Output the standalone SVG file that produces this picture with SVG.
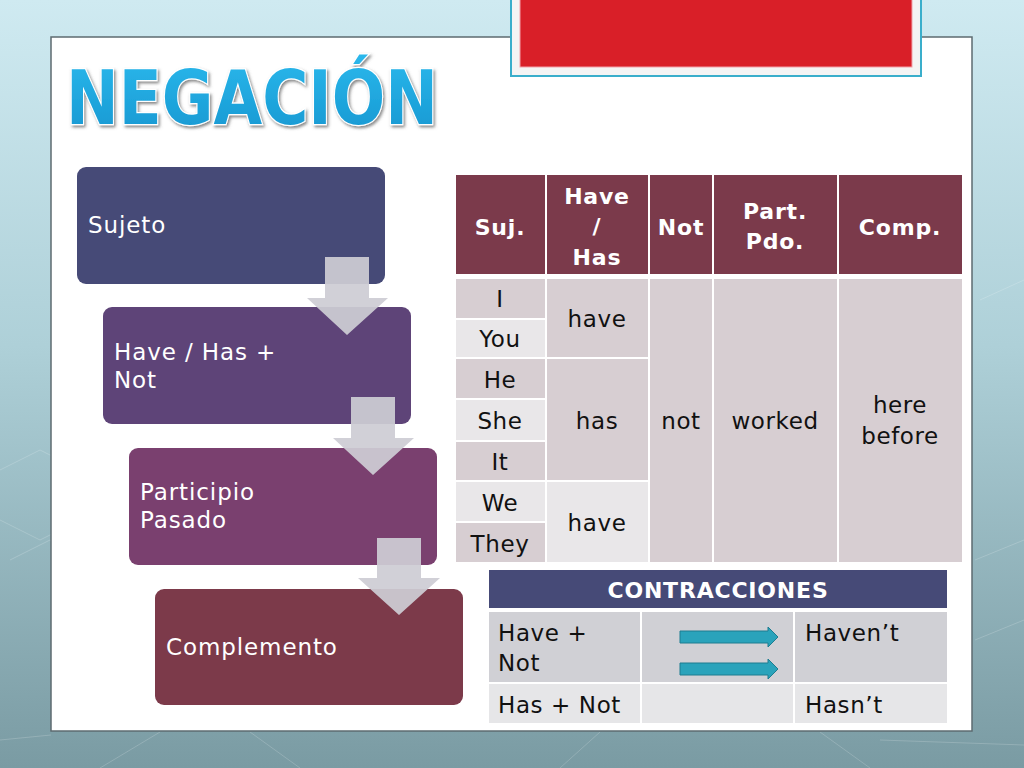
<svg xmlns="http://www.w3.org/2000/svg" width="1024" height="768" viewBox="0 0 1024 768">
<defs>
<linearGradient id="bg" x1="0" y1="0" x2="0" y2="1">
<stop offset="0" stop-color="#cfeaf1"/>
<stop offset="0.45" stop-color="#aed0d8"/>
<stop offset="1" stop-color="#7a9ba3"/>
</linearGradient>
<linearGradient id="tgrad" x1="0" y1="0" x2="0" y2="1">
<stop offset="0" stop-color="#2bb8ec"/>
<stop offset="1" stop-color="#1596d0"/>
</linearGradient>
<filter id="tshadow" x="-5%" y="-10%" width="110%" height="130%">
<feDropShadow dx="1.5" dy="2" stdDeviation="1.5" flood-color="#555" flood-opacity="0.7"/>
</filter>
<style>
.box{stroke:none}
.lbl{font-family:"DejaVu Sans","Liberation Sans",sans-serif;font-size:23px;letter-spacing:0.9px;fill:#ffffff}
.th{font-family:"DejaVu Sans","Liberation Sans",sans-serif;font-size:22px;letter-spacing:0.8px;font-weight:bold;fill:#ffffff;text-anchor:middle}
.td{font-family:"DejaVu Sans","Liberation Sans",sans-serif;font-size:23px;letter-spacing:0.6px;fill:#111111;text-anchor:middle}
.tl{font-family:"DejaVu Sans","Liberation Sans",sans-serif;font-size:23px;letter-spacing:0.6px;fill:#111111}
.dark{fill:#d7ced2}
.light{fill:#e9e7e9}
.hdr{fill:#7b3a4b}
.garrow{fill:#cdccd4;fill-opacity:0.93}
.tarrow{fill:#2aa3bb;stroke:#1d7d90;stroke-width:1}
.deco{stroke:#ffffff;stroke-opacity:0.18;fill:none;stroke-width:1}
</style>
</defs>

<!-- background -->
<rect x="0" y="0" width="1024" height="768" fill="url(#bg)"/>
<g class="deco">
<path d="M0 470 L40 450 L80 470 L80 520 L40 540 L0 520"/>
<path d="M10 560 L50 540 L90 560 L90 610 L50 630"/>
<path d="M980 300 L1024 280"/>
<path d="M975 560 L1024 540"/>
<path d="M975 640 L1024 620"/>
<path d="M100 768 L160 732"/>
<path d="M250 732 L300 768"/>
<path d="M560 768 L600 732"/>
<path d="M820 732 L870 768"/>
<path d="M880 740 L1024 745"/>
<path d="M0 740 L51 735"/>
</g>

<!-- white panel -->
<rect x="51" y="37" width="921" height="694" fill="#ffffff" stroke="#5d6b70" stroke-width="1.5"/>

<!-- red title box -->
<g id="redbox">
<rect x="511" y="-5" width="410" height="81" fill="#f4f4f4" stroke="#3aaecb" stroke-width="2"/>
<rect x="520" y="-5" width="392" height="72" fill="#d91f28" stroke="#f2a2aa" stroke-width="1"/>
</g>

<!-- title -->
<text x="66" y="124" font-family="DejaVu Sans, Liberation Sans, sans-serif" font-weight="bold" font-size="74" textLength="372" lengthAdjust="spacingAndGlyphs" fill="url(#tgrad)" stroke="#ffffff" stroke-width="2.5" paint-order="stroke" filter="url(#tshadow)">NEGACIÓN</text>

<!-- nodes -->
<g id="node-sujeto">
<rect class="box" x="77" y="167" width="308" height="117" rx="9" fill="#464a77"/>
<text class="lbl" x="88" y="233">Sujeto</text>
</g>
<g id="node-have">
<rect class="box" x="103" y="307" width="308" height="117" rx="9" fill="#5e4478"/>
<text class="lbl" x="114" y="360">Have / Has +</text>
<text class="lbl" x="114" y="388">Not</text>
</g>
<g id="node-participio">
<rect class="box" x="129" y="448" width="308" height="117" rx="9" fill="#7a406f"/>
<text class="lbl" x="140" y="500">Participio</text>
<text class="lbl" x="140" y="528">Pasado</text>
</g>
<g id="node-complemento">
<rect class="box" x="155" y="589" width="308" height="116" rx="9" fill="#7c3a4a"/>
<text class="lbl" x="166" y="655">Complemento</text>
</g>

<!-- connectors -->
<g id="connectors">
<path class="garrow" d="M325 257 H369 V298 H388 L347 335 L307 298 H325 Z"/>
<path class="garrow" d="M351 397 H395 V438 H414 L373 475 L333 438 H351 Z"/>
<path class="garrow" d="M377 538 H421 V578 H440 L399 615 L358 578 H377 Z"/>
</g>

<!-- main table -->
<g id="table-main">
<rect class="hdr" x="456" y="175" width="89" height="99"/>
<rect class="hdr" x="547" y="175" width="101" height="99"/>
<rect class="hdr" x="650" y="175" width="62" height="99"/>
<rect class="hdr" x="714" y="175" width="123" height="99"/>
<rect class="hdr" x="839" y="175" width="123" height="99"/>
<text class="th" x="500" y="235">Suj.</text>
<text class="th" x="597" y="204">Have</text>
<text class="th" x="597" y="234">/</text>
<text class="th" x="597" y="265">Has</text>
<text class="th" x="681" y="235">Not</text>
<text class="th" x="775" y="219">Part.</text>
<text class="th" x="775" y="249">Pdo.</text>
<text class="th" x="900" y="235">Comp.</text>

<rect class="dark" x="456" y="279" width="89" height="39"/>
<rect class="light" x="456" y="320" width="89" height="37"/>
<rect class="dark" x="456" y="359" width="89" height="39"/>
<rect class="light" x="456" y="400" width="89" height="40"/>
<rect class="dark" x="456" y="442" width="89" height="38"/>
<rect class="light" x="456" y="482" width="89" height="39"/>
<rect class="dark" x="456" y="523" width="89" height="39"/>
<rect class="dark" x="547" y="279" width="101" height="78"/>
<rect class="dark" x="547" y="359" width="101" height="121"/>
<rect class="light" x="547" y="482" width="101" height="80"/>
<rect class="dark" x="650" y="279" width="62" height="283"/>
<rect class="dark" x="714" y="279" width="123" height="283"/>
<rect class="dark" x="839" y="279" width="123" height="283"/>

<text class="td" x="500" y="307">I</text>
<text class="td" x="500" y="347">You</text>
<text class="td" x="500" y="388">He</text>
<text class="td" x="500" y="429">She</text>
<text class="td" x="500" y="470">It</text>
<text class="td" x="500" y="511">We</text>
<text class="td" x="500" y="552">They</text>
<text class="td" x="597" y="327">have</text>
<text class="td" x="597" y="429">has</text>
<text class="td" x="597" y="531">have</text>
<text class="td" x="681" y="429">not</text>
<text class="td" x="775" y="429">worked</text>
<text class="td" x="900" y="413">here</text>
<text class="td" x="900" y="444">before</text>
</g>

<!-- contractions table -->
<g id="table-contracciones">
<rect x="489" y="570" width="458" height="38" fill="#464a77"/>
<text class="th" x="718" y="598">CONTRACCIONES</text>
<rect x="489" y="612" width="151" height="70" fill="#d0d0d5"/>
<rect x="642" y="612" width="151" height="70" fill="#d0d0d5"/>
<rect x="795" y="612" width="152" height="70" fill="#d0d0d5"/>
<rect x="489" y="684" width="151" height="39" fill="#e6e6e8"/>
<rect x="642" y="684" width="151" height="39" fill="#e6e6e8"/>
<rect x="795" y="684" width="152" height="39" fill="#e6e6e8"/>
<text class="tl" x="498" y="641">Have +</text>
<text class="tl" x="498" y="671">Not</text>
<text class="tl" x="805" y="641">Haven’t</text>
<text class="tl" x="498" y="713">Has + Not</text>
<text class="tl" x="805" y="713">Hasn’t</text>
<path class="tarrow" d="M680 631 H768 V627 L778 637 L768 647 V643 H680 Z"/>
<path class="tarrow" d="M680 663 H768 V659 L778 669 L768 679 V675 H680 Z"/>
</g>
</svg>
